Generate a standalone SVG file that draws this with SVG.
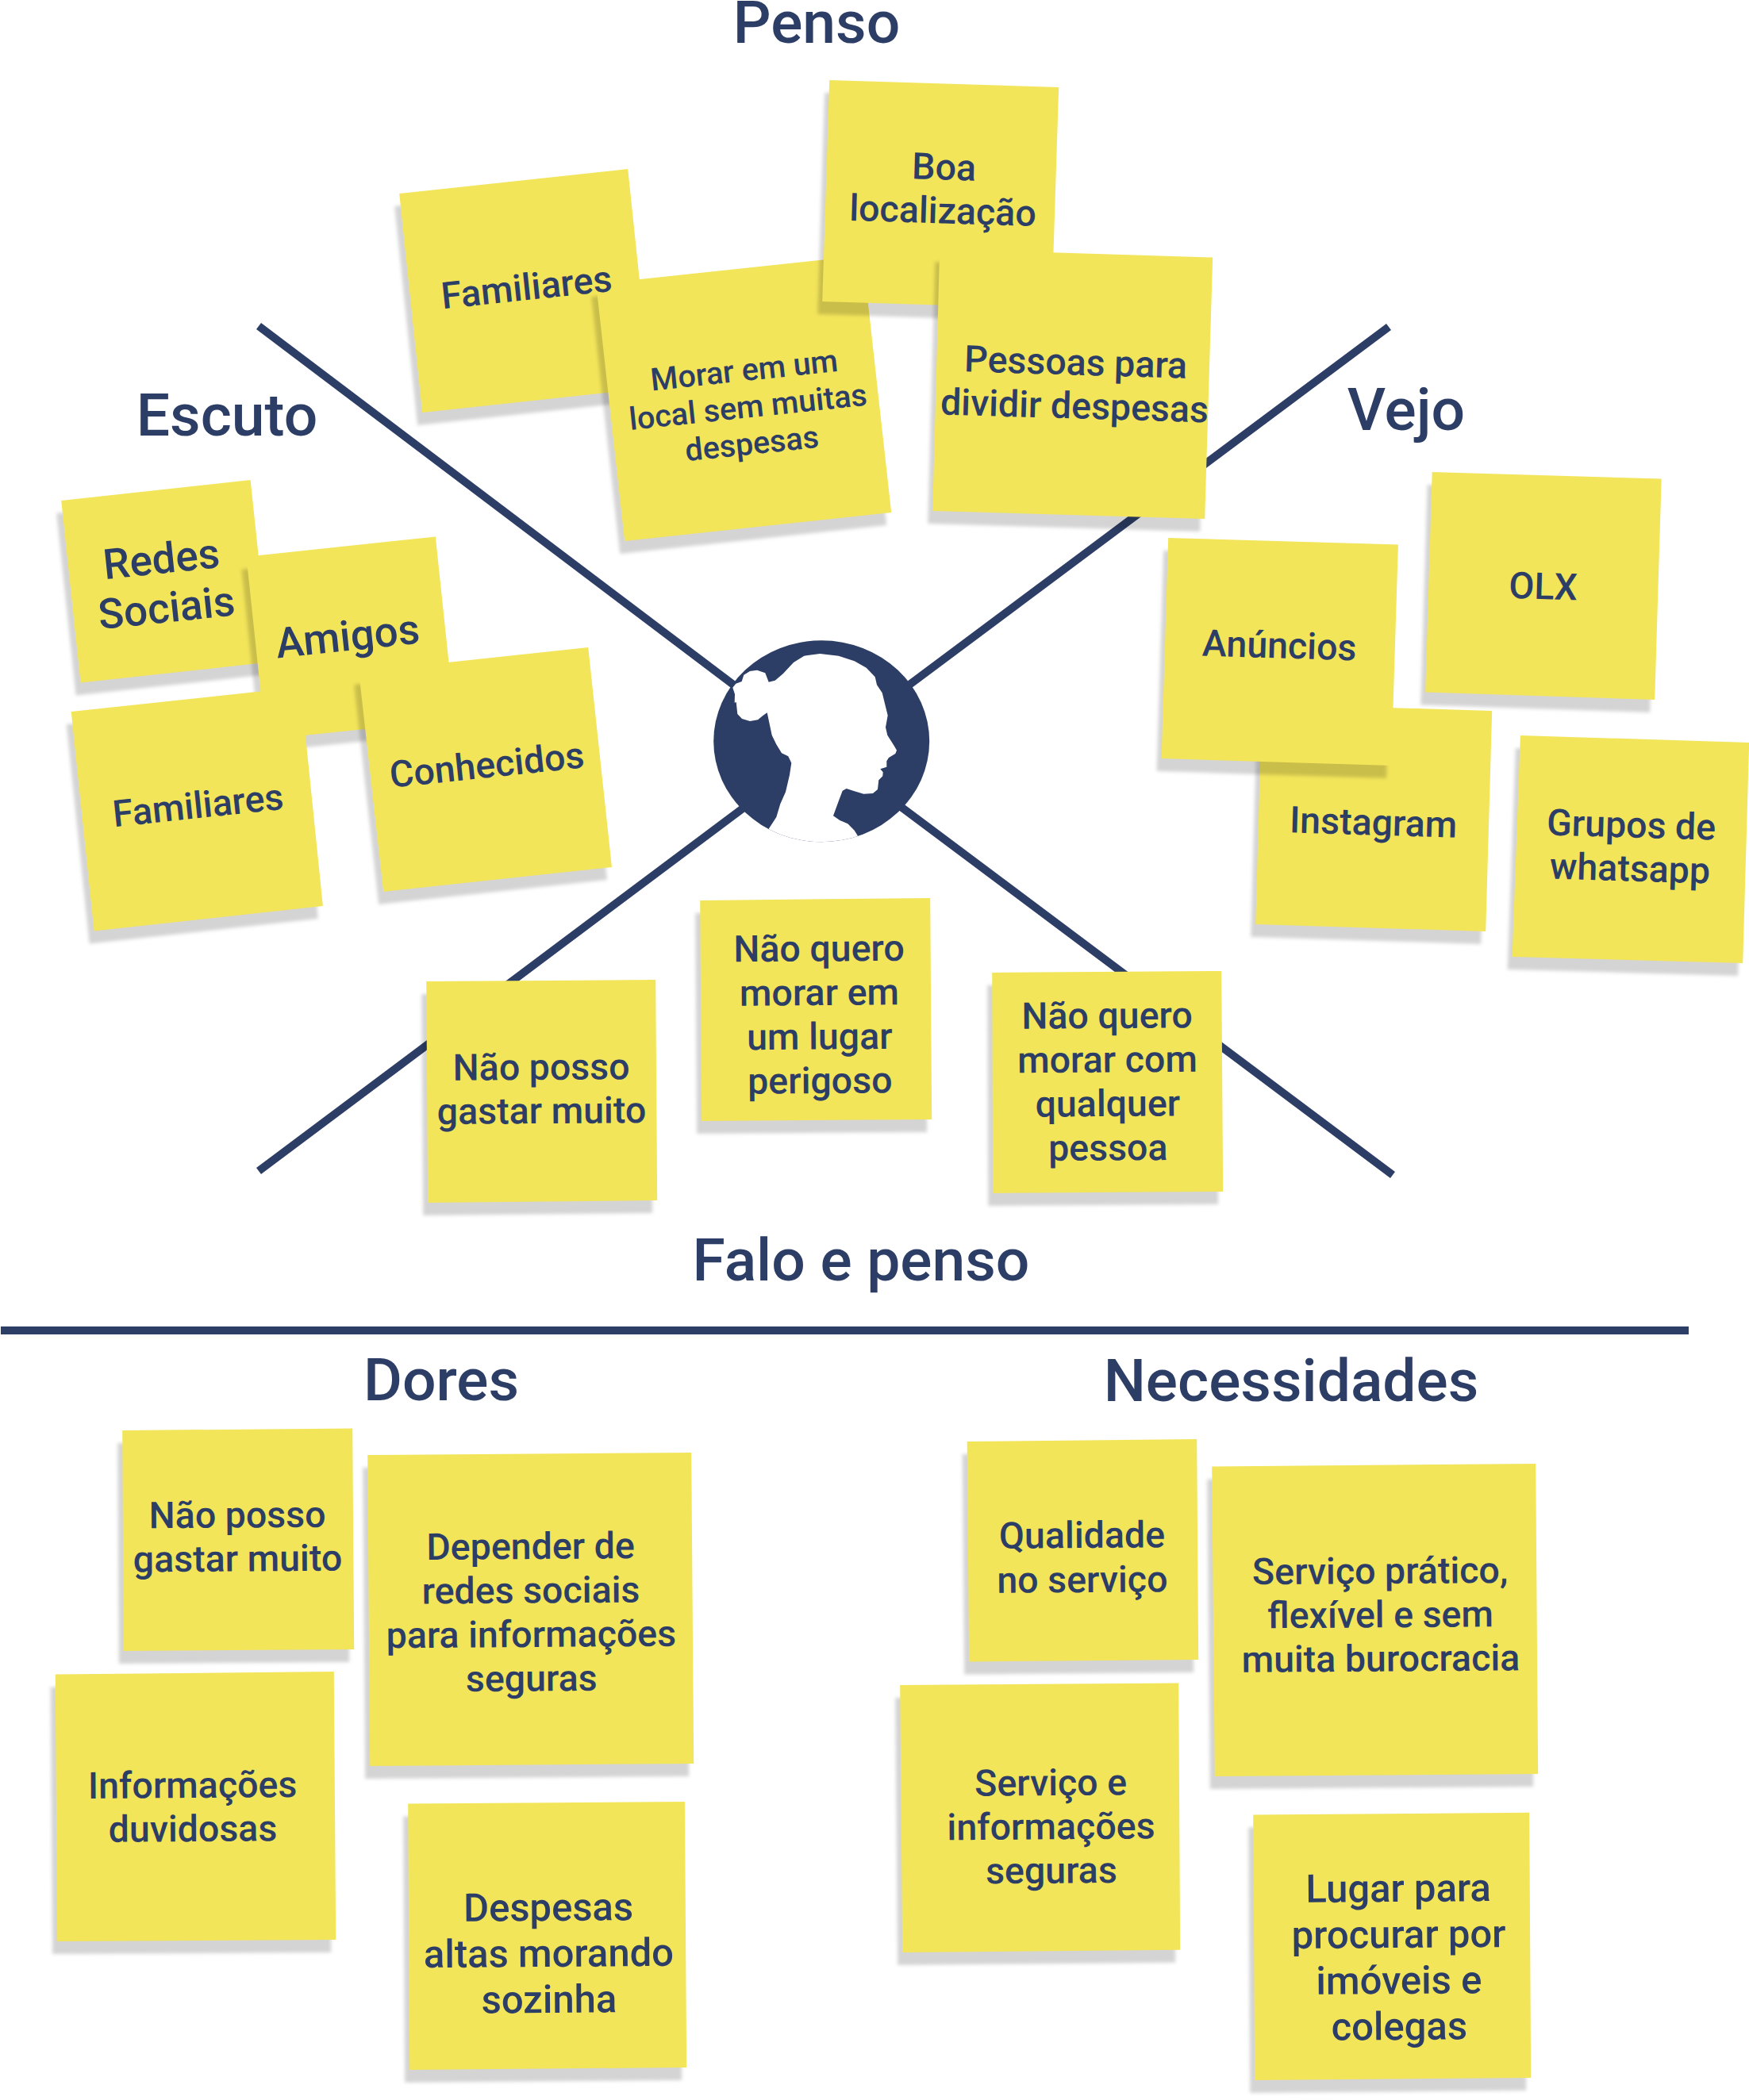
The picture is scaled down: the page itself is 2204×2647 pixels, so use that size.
<svg xmlns="http://www.w3.org/2000/svg" width="2204" height="2647" viewBox="0 0 2204 2647">
<style>
text{font-family:Roboto,"Liberation Sans",sans-serif;font-weight:500;fill:#2d3e66;text-anchor:middle}
.t{font-size:75px}
.n{font-size:46.5px}
.p{fill:#f3e55a}
.s{fill:#000;fill-opacity:.17;transform:translate(-6px,16px);filter:url(#b)}
.l{stroke:#2d3e66;stroke-width:10;fill:none}
</style>
<defs>
<filter id="b" x="-5%" y="-5%" width="110%" height="110%"><feGaussianBlur stdDeviation="2"/></filter>
<clipPath id="c"><ellipse cx="1035.2" cy="934.3" rx="136" ry="127"/></clipPath>
</defs>
<rect width="2204" height="2647" fill="#fff"/>
<g id="connectors">
<path class="l" d="M326 411L940 875"/>
<path class="l" d="M1750 412L1130 875"/>
<path class="l" d="M326 1476L940 1016"/>
<path class="l" d="M1755 1481L1130 1013"/>
<path d="M1 1672H2128V1682H1Z" fill="#2d3e66"/>
</g>
<g id="titles">
<text id="t-penso" class="t" x="1029" y="53.6">Penso</text>
<text id="t-escuto" class="t" x="286" y="549">Escuto</text>
<text id="t-vejo" class="t" x="1772" y="542">Vejo</text>
<text id="t-falo" class="t" x="1085" y="1614">Falo e penso</text>
<text id="t-dores" class="t" x="556" y="1765">Dores</text>
<text id="t-nec" class="t" x="1627" y="1766">Necessidades</text>
</g>
<g id="persona">
<ellipse cx="1035.2" cy="934.3" rx="136" ry="127" fill="#2d3e66"/>
<path clip-path="url(#c)" fill="#fff" d="M969 1044.3L978.3 1030L983.3 1013.3L990 998.3L995 976.7L997.3 961.7L993.3 953.3L985 949.3L978.3 938.3L972.7 926.7L966.7 898.3L961.7 901.7L955 907.3L945 909L935 906L929.3 900L927.7 885L925.7 885.7L926 875L923.3 866.7L927.3 861.7L934.7 859L937.3 850.7L945 846L954 844.7L964.3 848.3L968.7 859.7L976.7 857.7L986.7 849.3L1000 835L1013.3 826.7L1033.3 824L1056.7 826.7L1076.7 833.3L1091.7 841.7L1102.7 853.3L1105 863.3L1111.7 873.3L1115 886.7L1118.7 901.7L1116 916.7L1118.3 926.7L1126.7 940L1130 945.7L1128.3 950L1120 955L1117.3 959.3L1117.3 966.7L1109.3 969.3L1112.7 973.3L1112.3 978.3L1107.3 983.3L1106 995L1100 1000L1088.3 1000.7L1076.7 997.3L1066.7 994L1061.7 996.7L1056.7 1010L1050 1028.3L1058.3 1034L1068.3 1038.3L1076.7 1046.7L1080.7 1053.3V1080H969Z"/>
</g>
<g id="notes" transform="translate(1.2 0)">
<g id="note-familiares1"><polygon class="s" points="502,244 790,213 819,489 531,520"/><polygon class="p" points="502,244 790,213 819,489 531,520"/></g>
<g id="note-morar"><polygon class="s" points="750,358 1086,322 1122,646 786,682"/><polygon class="p" points="750,358 1086,322 1122,646 786,682"/><text class="n" style="font-size:39.5px" transform="translate(938 480) rotate(-6)"><tspan x="0" y="0">Morar em um</tspan><tspan x="0" y="46.5">local sem muitas</tspan><tspan x="0" y="93">despesas</tspan></text></g>
<text id="note-familiares1-label" class="n" transform="translate(664 378) rotate(-6)">Familiares</text>
<g id="note-boa"><polygon class="s" points="1044,101 1333,110 1324,389 1035,380"/><polygon class="p" points="1044,101 1333,110 1324,389 1035,380"/><text class="n" transform="translate(1188 226.5) rotate(1.7)"><tspan x="0" y="0">Boa</tspan><tspan x="0" y="55">localização</tspan></text></g>
<g id="note-pessoas"><polygon class="s" points="1183,314 1527,324.5 1517,654 1174,644"/><polygon class="p" points="1183,314 1527,324.5 1517,654 1174,644"/><text class="n" transform="translate(1354 472.5) rotate(1.7)"><tspan x="0" y="0">Pessoas para</tspan><tspan x="0" y="55">dividir despesas</tspan></text></g>
<g id="note-redes"><polygon class="s" points="76,631 314.4,605 338.8,834.6 100.4,860.6"/><polygon class="p" points="76,631 314.4,605 338.8,834.6 100.4,860.6"/><text class="n" style="font-size:53px" transform="translate(204 722.6) rotate(-6)"><tspan x="0" y="0">Redes</tspan><tspan x="0" y="62">Sociais</tspan></text></g>
<g id="note-amigos"><polygon class="s" points="309.3,701.7 547.6,676.5 572,907 333.6,932"/><polygon class="p" points="309.3,701.7 547.6,676.5 572,907 333.6,932"/><text class="n" style="font-size:53px" transform="translate(438.8 820) rotate(-6)">Amigos</text></g>
<g id="note-familiares2"><polygon class="s" points="88.5,897 377.5,866 405.7,1142 117.4,1173.6"/><polygon class="p" points="88.5,897 377.5,866 405.7,1142 117.4,1173.6"/><text class="n" transform="translate(250 1031) rotate(-6)">Familiares</text></g>
<g id="note-conhecidos"><polygon class="s" points="451,847 740,816 769.8,1093 482,1124"/><polygon class="p" points="451,847 740,816 769.8,1093 482,1124"/><text class="n" transform="translate(614 980) rotate(-6)">Conhecidos</text></g>
<g id="note-olx"><polygon class="s" points="1803.5,595 2092.5,603.6 2084,882 1795,872.5"/><polygon class="p" points="1803.5,595 2092.5,603.6 2084,882 1795,872.5"/><text class="n" transform="translate(1943 755) rotate(1.7)">OLX</text></g>
<g id="note-instagram"><polygon class="s" points="1589,887 1879,896 1871,1174 1581,1165"/><polygon class="p" points="1589,887 1879,896 1871,1174 1581,1165"/><text class="n" transform="translate(1729 1052.5) rotate(1.7)">Instagram</text></g>
<g id="note-anuncios"><polygon class="s" points="1471,678 1760.7,686.5 1752,965 1462.4,956"/><polygon class="p" points="1471,678 1760.7,686.5 1752,965 1462.4,956"/><text class="n" transform="translate(1610.6 829.5) rotate(1.7)">Anúncios</text></g>
<g id="note-grupos"><polygon class="s" points="1914.7,927 2203,936 2195,1214 1904.4,1206"/><polygon class="p" points="1914.7,927 2203,936 2195,1214 1904.4,1206"/><text class="n" transform="translate(2054 1055.6) rotate(1.7)"><tspan x="0" y="0">Grupos de</tspan><tspan x="0" y="55">whatsapp</tspan></text></g>
<g id="note-naoposso1"><polygon class="s" points="536,1237 825,1235 827,1513 538,1516"/><polygon class="p" points="536,1237 825,1235 827,1513 538,1516"/><text class="n" transform="translate(681 1361) rotate(-.4)"><tspan x="0" y="0">Não posso</tspan><tspan x="0" y="55">gastar muito</tspan></text></g>
<g id="note-naoquero1"><polygon class="s" points="881,1135 1171,1132 1173,1411 883,1413"/><polygon class="p" points="881,1135 1171,1132 1173,1411 883,1413"/><text class="n" transform="translate(1031 1211.5) rotate(-.4)"><tspan x="0" y="0">Não quero</tspan><tspan x="0" y="55.5">morar em</tspan><tspan x="0" y="111">um lugar</tspan><tspan x="0" y="166.5">perigoso</tspan></text></g>
<g id="note-naoquero2"><polygon class="s" points="1249,1226 1538,1224 1540,1502 1250,1504"/><polygon class="p" points="1249,1226 1538,1224 1540,1502 1250,1504"/><text class="n" transform="translate(1394 1296) rotate(-.4)"><tspan x="0" y="0">Não quero</tspan><tspan x="0" y="55.5">morar com</tspan><tspan x="0" y="111">qualquer</tspan><tspan x="0" y="166.5">pessoa</tspan></text></g>
<g id="note-naoposso2"><polygon class="s" points="153,1803 443,1800.5 445,2079 154.6,2081"/><polygon class="p" points="153,1803 443,1800.5 445,2079 154.6,2081"/><text class="n" transform="translate(298 1925.5) rotate(-.4)"><tspan x="0" y="0">Não posso</tspan><tspan x="0" y="55">gastar muito</tspan></text></g>
<g id="note-depender"><polygon class="s" points="462,1834 870,1831 873,2223 465,2226"/><polygon class="p" points="462,1834 870,1831 873,2223 465,2226"/><text class="n" transform="translate(667.5 1965) rotate(-.4)"><tspan x="0" y="0">Depender de</tspan><tspan x="0" y="55.5">redes sociais</tspan><tspan x="0" y="111">para informações</tspan><tspan x="0" y="166.5">seguras</tspan></text></g>
<g id="note-informacoes"><polygon class="s" points="68.5,2110.6 419.6,2107 422,2445 71,2447"/><polygon class="p" points="68.5,2110.6 419.6,2107 422,2445 71,2447"/><text class="n" transform="translate(241.5 2266) rotate(-.4)"><tspan x="0" y="0">Informações</tspan><tspan x="0" y="55">duvidosas</tspan></text></g>
<g id="note-despesas"><polygon class="s" points="513,2273.6 861.7,2271 864,2606 515,2609"/><polygon class="p" points="513,2273.6 861.7,2271 864,2606 515,2609"/><text class="n" style="font-size:49px" transform="translate(690 2421) rotate(-.4)"><tspan x="0" y="0">Despesas</tspan><tspan x="0" y="58">altas morando</tspan><tspan x="0" y="116">sozinha</tspan></text></g>
<g id="note-qualidade"><polygon class="s" points="1217.5,1817 1507,1814 1509,2092 1220,2094.5"/><polygon class="p" points="1217.5,1817 1507,1814 1509,2092 1220,2094.5"/><text class="n" transform="translate(1362.4 1951) rotate(-.4)"><tspan x="0" y="0">Qualidade</tspan><tspan x="0" y="56">no serviço</tspan></text></g>
<g id="note-servicopratico"><polygon class="s" points="1526,1848.5 1934,1845 1937,2236 1529.6,2239"/><polygon class="p" points="1526,1848.5 1934,1845 1937,2236 1529.6,2239"/><text class="n" transform="translate(1738 1996) rotate(-.4)"><tspan x="0" y="0">Serviço prático,</tspan><tspan x="0" y="55.3">flexível e sem</tspan><tspan x="0" y="110.6">muita burocracia</tspan></text></g>
<g id="note-servicoe"><polygon class="s" points="1133,2124 1484,2121.6 1486,2457.7 1136,2461"/><polygon class="p" points="1133,2124 1484,2121.6 1486,2457.7 1136,2461"/><text class="n" transform="translate(1323 2263) rotate(-.4)"><tspan x="0" y="0">Serviço e</tspan><tspan x="0" y="55.3">informações</tspan><tspan x="0" y="110.6">seguras</tspan></text></g>
<g id="note-lugar"><polygon class="s" points="1578,2287.5 1926,2284.7 1928,2619 1580,2622"/><polygon class="p" points="1578,2287.5 1926,2284.7 1928,2619 1580,2622"/><text class="n" style="font-size:49px" transform="translate(1761 2397) rotate(-.4)"><tspan x="0" y="0">Lugar para</tspan><tspan x="0" y="58">procurar por</tspan><tspan x="0" y="116">imóveis e</tspan><tspan x="0" y="174">colegas</tspan></text></g>
</g>
</svg>
